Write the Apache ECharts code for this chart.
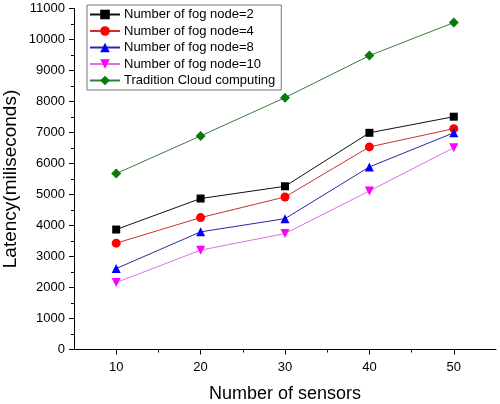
<!DOCTYPE html>
<html><head><meta charset="utf-8">
<script src="https://cdn.jsdelivr.net/npm/echarts@6/dist/echarts.min.js"></script>
<style>html,body{margin:0;padding:0;background:#fff}#c{width:500px;height:404px}</style>
</head><body><div id="c"></div>
<script>
var sensors = [10, 20, 30, 40, 50];
var fog2 = [3870, 4870, 5265, 6990, 7510];
var fog4 = [3430, 4255, 4920, 6535, 7125];
var fog8 = [2610, 3795, 4220, 5890, 6990];
var fog10 = [2160, 3205, 3740, 5115, 6510];
var cloud = [5675, 6890, 8125, 9480, 10545];
var xTicks = [10, 20, 30, 40, 50];
var xMinorTicks = [15, 25, 35, 45];
var names = ['Number of fog node=2','Number of fog node=4','Number of fog node=8','Number of fog node=10','Tradition Cloud computing'];

function pairs(v){ return sensors.map(function(x,i){ return [x, v[i]]; }); }
var FONT = 'Liberation Sans, Arial, sans-serif';
function ser(name, data, symbol, size, rot, lineColor, color){
  return {name:name, type:'line', data:pairs(data), symbol:symbol, symbolSize:size, symbolRotate:rot,
    lineStyle:{color:lineColor, width:1}, itemStyle:{color:color}, z:3, animation:false};
}
var chart = echarts.init(document.getElementById('c'), null, {renderer:'canvas'});
chart.setOption({
  animation:false,
  grid:{left:74, right:4, top:8.5, bottom:54.5, containLabel:false, outerBoundsMode:'none'},
  legend:{orient:'vertical', left:87, top:5, itemWidth:30, itemHeight:12, itemGap:3.5,
    padding:[3,6,3,2], borderColor:'#777', borderWidth:1, backgroundColor:'#fff',
    textStyle:{fontFamily:FONT, fontSize:13, color:'#000', padding:[0,0,0,-1]}, data:names},
  xAxis:[{type:'value', min:5, max:55,
    name:'Number of sensors', nameLocation:'middle', nameGap:36, nameMoveOverlap:false,
    nameTextStyle:{fontFamily:FONT, fontSize:18, color:'#000'},
    axisLine:{show:true, onZero:false, lineStyle:{color:'#000', width:1}},
    axisTick:{show:true, inside:false, length:5, customValues:xTicks, lineStyle:{color:'#000'}},
    axisLabel:{customValues:xTicks, fontFamily:FONT, fontSize:13, color:'#000', margin:11},
    splitLine:{show:false}},
   {type:'value', min:5, max:55, position:'bottom', axisLine:{show:false},
    axisTick:{show:true, length:3, customValues:xMinorTicks, lineStyle:{color:'#000'}},
    axisLabel:{show:false}, splitLine:{show:false}}],
  yAxis:{type:'value', min:0, max:11000, interval:1000,
    name:'Latency(miliseconds)', nameLocation:'middle', nameGap:54, nameMoveOverlap:false,
    nameTextStyle:{fontFamily:FONT, fontSize:19, color:'#000'},
    axisLine:{show:true, lineStyle:{color:'#000', width:1}},
    axisTick:{show:true, length:5, lineStyle:{color:'#000'}},
    minorTick:{show:true, splitNumber:2, length:3, lineStyle:{color:'#000'}},
    axisLabel:{fontFamily:FONT, fontSize:13, color:'#000', margin:9,
      formatter:function(v){ return String(v); }},
    splitLine:{show:false}},
  series:[
    ser(names[0], fog2, 'rect', 8, 0, '#111', '#000'),
    ser(names[1], fog4, 'circle', 9, 0, '#c83030', '#ff0000'),
    ser(names[2], fog8, 'triangle', 9, 0, '#2a2aa0', '#0000ff'),
    ser(names[3], fog10, 'triangle', 9, 180, '#e070e0', '#ff00ff'),
    ser(names[4], cloud, 'diamond', 10, 0, '#3d7a3d', '#0a7a0a')
  ]
});
</script></body></html>
